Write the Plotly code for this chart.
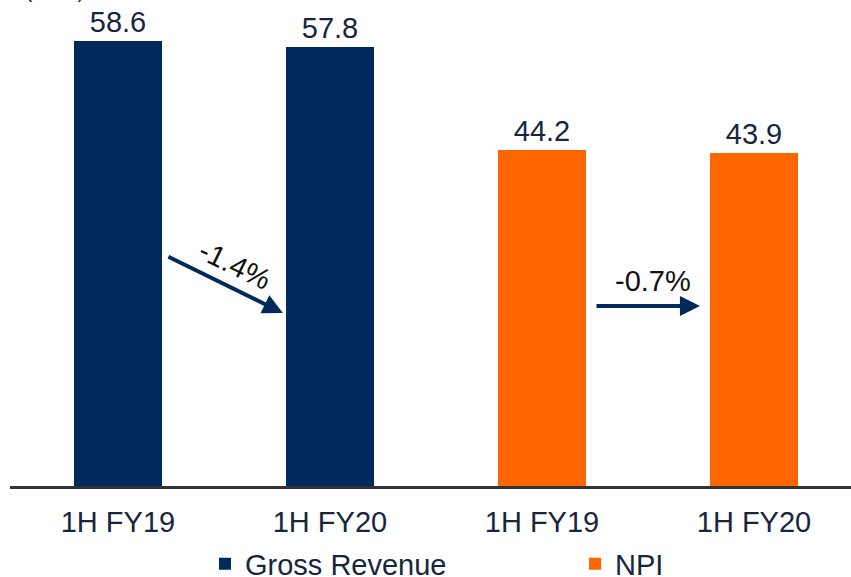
import plotly.graph_objects as go

categories = ["1H FY19", "1H FY20", "1H FY19", "1H FY20"]
gross_revenue = [58.6, 57.8]
npi = [44.2, 43.9]
changes = ["-1.4%", "-0.7%"]

NAVY = "#002A5C"
ORANGE = "#FF6600"
TEXT = "#17263D"
FONT = "Liberation Sans, Arial, sans-serif"
FS = 29

fig = go.Figure()
fig.add_trace(go.Bar(
    x=[0, 1], y=gross_revenue, name="Gross Revenue",
    marker=dict(color=NAVY, line=dict(width=0)), width=0.415,
    text=[f"{v:.1f}" for v in gross_revenue], textposition="outside",
    textfont=dict(size=FS, color=TEXT, family=FONT), cliponaxis=False,
))
fig.add_trace(go.Bar(
    x=[2, 3], y=npi, name="NPI",
    marker=dict(color=ORANGE, line=dict(width=0)), width=0.415,
    text=[f"{v:.1f}" for v in npi], textposition="outside",
    textfont=dict(size=FS, color=TEXT, family=FONT), cliponaxis=False,
))

# change arrows
fig.add_annotation(x=0.778, y=22.78, ax=0.231, ay=30.29, xref="x", yref="y",
                   axref="x", ayref="y", text="", showarrow=True,
                   arrowhead=2, arrowsize=1, arrowwidth=4, arrowcolor=NAVY)
fig.add_annotation(x=0.552, y=29.1, xref="x", yref="y", text=changes[0],
                   showarrow=False, textangle=26,
                   font=dict(size=FS, color="#111111", family=FONT))
fig.add_annotation(x=2.745, y=23.7, ax=2.25, ay=23.7, xref="x", yref="y",
                   axref="x", ayref="y", text="", showarrow=True,
                   arrowhead=2, arrowsize=1, arrowwidth=4, arrowcolor=NAVY)
fig.add_annotation(x=2.524, y=27.0, xref="x", yref="y", text=changes[1],
                   showarrow=False,
                   font=dict(size=FS, color="#111111", family=FONT))

# unit label (cut off at top, as in the source)
fig.add_annotation(x=77 / 841, y=1.0, xref="paper", yref="paper", text="(S$m)",
                   showarrow=False, xanchor="right", yanchor="bottom", yshift=-4,
                   font=dict(size=22, color=TEXT, family=FONT))

fig.update_layout(
    width=851, height=577,
    margin=dict(l=10, r=0, t=0, b=91, autoexpand=False),
    paper_bgcolor="white", plot_bgcolor="white",
    showlegend=True,
    legend=dict(orientation="h", xref="container", yref="container",
                x=205 / 851, xanchor="left", y=1 - 564 / 577, yanchor="middle",
                font=dict(size=FS, color=TEXT, family=FONT),
                entrywidth=325, itemwidth=30, traceorder="normal",
                bgcolor="rgba(0,0,0,0)"),
    xaxis=dict(range=[-0.509, 3.4575], tickmode="array", tickvals=[0, 1, 2, 3],
               ticktext=categories, showgrid=False, zeroline=False,
               showline=True, linecolor="#333333", linewidth=3,
               tickfont=dict(size=FS, color=TEXT, family=FONT), ticks="",
               ticklabelstandoff=8),
    yaxis=dict(range=[0, 64], visible=False, showgrid=False, zeroline=False),
    bargap=0,
)

fig.write_html("out.html", config={"displayModeBar": False},
               post_script="document.body.style.margin='0';")
